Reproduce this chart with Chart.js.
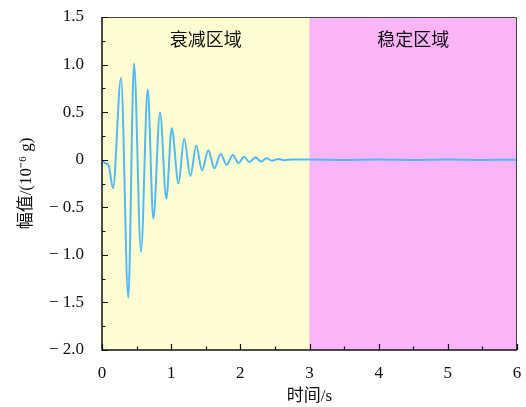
<!DOCTYPE html>
<html>
<head>
<meta charset="utf-8">
<script src="https://cdn.jsdelivr.net/npm/chart.js@4.4.1/dist/chart.umd.min.js"></script>
<style>
  html, body { margin: 0; padding: 0; background: #fff; }
  #wrap { width: 526px; height: 407px; }
</style>
</head>
<body>
<div id="wrap"><canvas id="ampChart"></canvas></div>
<script>
// time (s) and amplitude (1e-6 g), read at the turning points of the response
const times = [
  0, 0.03, 0.062, 0.097, 0.159, 0.275, 0.38, 0.463, 0.564, 0.661,
  0.742, 0.839, 0.93, 1.008, 1.106, 1.188, 1.279, 1.362, 1.446, 1.537,
  1.624, 1.716, 1.803, 1.89, 1.974, 2.053, 2.132, 2.219, 2.299, 2.378,
  2.458, 2.544, 2.631, 2.75, 3.0, 3.5, 4.0, 4.5, 5.0, 5.5, 6.0,
];
const amplitudes = [
  0, -0.03, -0.04, -0.06, -0.3, 0.86, -1.45, 1.01, -0.97, 0.74,
  -0.62, 0.5, -0.41, 0.33, -0.25, 0.22, -0.17, 0.15, -0.11, 0.1,
  -0.09, 0.06, -0.055, 0.05, -0.035, 0.03, -0.025, 0.025, -0.02, 0.015,
  -0.01, 0.008, -0.005, 0.003, 0.002, -0.002, 0.002, -0.002, 0.002, -0.002, 0,
];

// shaded zones
const regionNames = ["衰减区域", "稳定区域"];
const regionStarts = [0, 3];
const regionEnds = [3, 6];
const regionColors = ["#fffcd2", "#fbb4f7"];

const xTicksMajor = [0, 1, 2, 3, 4, 5, 6];
const yTicksMajor = [-2.0, -1.5, -1.0, -0.5, 0, 0.5, 1.0, 1.5];

const serif = "'Liberation Serif', 'Noto Sans CJK SC', serif";

function isMajor(list, v) {
  return list.some((m) => Math.abs(m - v) < 1e-6);
}

function yLabel(v) {
  if (Math.abs(v) < 1e-9) return "0";
  if (v < 0) return "\u2212 " + Math.abs(v).toFixed(1);
  return v.toFixed(1);
}

const regionsPlugin = {
  id: "regions",
  beforeDatasetsDraw(chart) {
    const { ctx, chartArea, scales } = chart;
    ctx.save();
    for (let i = 0; i < regionNames.length; i++) {
      const x0 = scales.x.getPixelForValue(regionStarts[i]);
      const x1 = scales.x.getPixelForValue(regionEnds[i]);
      ctx.fillStyle = regionColors[i];
      ctx.fillRect(x0, chartArea.top, x1 - x0, chartArea.bottom - chartArea.top);
    }
    ctx.fillStyle = "#111";
    ctx.font = "18px " + serif;
    ctx.textAlign = "center";
    ctx.textBaseline = "middle";
    for (let i = 0; i < regionNames.length; i++) {
      const cx = scales.x.getPixelForValue((regionStarts[i] + regionEnds[i]) / 2);
      ctx.fillText(regionNames[i], cx, scales.y.getPixelForValue(1.24));
    }
    ctx.restore();
  },
};

// frame plus inward tick marks
const framePlugin = {
  id: "frame",
  afterDraw(chart) {
    const { ctx, chartArea, scales } = chart;
    const { left, right, top, bottom } = chartArea;
    ctx.save();
    ctx.strokeStyle = "#444";
    ctx.lineWidth = 1;
    ctx.beginPath();
    ctx.moveTo(left, top + 0.5);
    ctx.lineTo(right - 0.5, top + 0.5);
    ctx.lineTo(right - 0.5, bottom);
    ctx.stroke();

    ctx.strokeStyle = "#111";
    ctx.lineWidth = 1.5;
    ctx.beginPath();
    ctx.moveTo(left, top);
    ctx.lineTo(left, bottom);
    ctx.lineTo(right, bottom);
    ctx.stroke();

    ctx.lineWidth = 1.2;
    ctx.beginPath();
    scales.y.ticks.forEach((t) => {
      const y = Math.round(scales.y.getPixelForValue(t.value)) + 0.5;
      const len = isMajor(yTicksMajor, t.value) ? 6 : 3.5;
      ctx.moveTo(left, y);
      ctx.lineTo(left + len, y);
    });
    scales.x.ticks.forEach((t) => {
      const x = Math.round(scales.x.getPixelForValue(t.value)) + 0.5;
      const len = isMajor(xTicksMajor, t.value) ? 6 : 3.5;
      ctx.moveTo(x, bottom);
      ctx.lineTo(x, bottom - len);
    });
    ctx.stroke();
    ctx.restore();
  },
};

new Chart(document.getElementById("ampChart"), {
  type: "line",
  data: {
    datasets: [
      {
        data: times.map((t, i) => ({ x: t, y: amplitudes[i] })),
        borderColor: "#52b9f7",
        borderWidth: 2,
        pointRadius: 0,
        cubicInterpolationMode: "monotone",
        fill: false,
      },
    ],
  },
  options: {
    responsive: true,
    maintainAspectRatio: false,
    animation: false,
    layout: { padding: { top: 17, right: 9, left: 0, bottom: 0 } },
    plugins: {
      legend: { display: false },
      tooltip: { enabled: false },
    },
    scales: {
      x: {
        type: "linear",
        min: 0,
        max: 6,
        border: { display: false },
        grid: { display: false },
        ticks: {
          stepSize: 0.5,
          padding: 5,
          color: "#111",
          font: { family: serif, size: 17 },
          maxRotation: 0,
          autoSkip: false,
          callback: (v) => (isMajor(xTicksMajor, v) ? String(Math.round(v)) : ""),
        },
        title: {
          display: true,
          text: "时间/s",
          color: "#111",
          font: { family: serif, size: 17 },
          padding: { top: 4, bottom: 0 },
        },
        afterFit(scale) {
          scale.height = 57;
          scale.paddingLeft = 0;
          scale.paddingRight = 0;
        },
      },
      y: {
        min: -2,
        max: 1.5,
        border: { display: false },
        grid: { display: false },
        ticks: {
          stepSize: 0.25,
          padding: 10,
          color: "#111",
          font: { family: serif, size: 17 },
          autoSkip: false,
          callback: (v) => (isMajor(yTicksMajor, v) ? yLabel(v) : ""),
        },
        title: {
          display: true,
          text: "幅值/(10⁻⁶ g)",
          color: "#111",
          font: { family: serif, size: 17 },
          padding: { top: 16, bottom: 4 },
        },
        afterFit(scale) {
          scale.width = 102;
          scale.paddingTop = 0;
          scale.paddingBottom = 0;
        },
      },
    },
  },
  plugins: [regionsPlugin, framePlugin],
});
</script>
</body>
</html>
